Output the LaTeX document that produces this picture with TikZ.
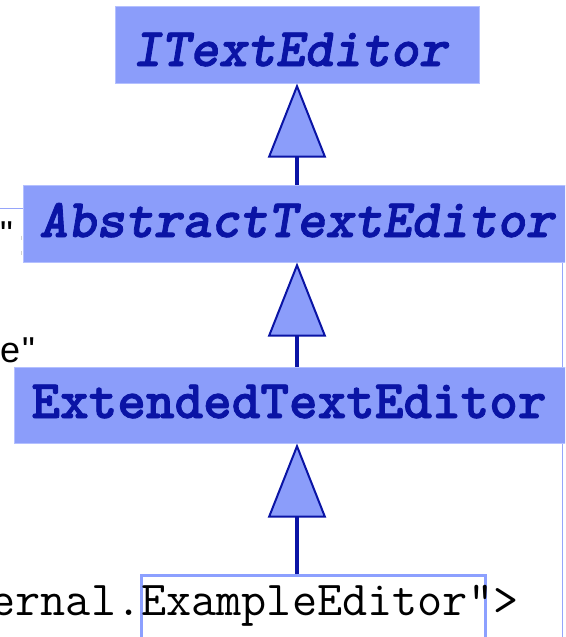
\documentclass[tikz,border=0pt]{standalone}
\usepackage{fontspec}
\newfontfamily\quotefont{Liberation Sans}
\newfontfamily\classmono{lmmonolt10-bold.otf}[FakeBold=1.6]
\newfontfamily\classmonosl{lmmonolt10-boldoblique.otf}[FakeBold=1.6]
\usetikzlibrary{arrows.meta}

\definecolor{classfill}{RGB}{139,157,250}
\definecolor{classedge}{RGB}{180,192,255}
\definecolor{classink}{RGB}{10,20,165}
\definecolor{hilite}{RGB}{140,160,255}
\definecolor{guide}{RGB}{150,165,250}

\tikzset{
  classbox/.style={rectangle, fill=classfill, draw=classedge, line width=1pt, inner sep=0pt},
  classname/.style={anchor=base west, inner sep=0pt, text=classink,
    font=\fontsize{54.5}{60}\selectfont\classmono},
  abstractname/.style={classname, font=\fontsize{54.5}{60}\selectfont\classmonosl},
  codetext/.style={anchor=base west, inner sep=0pt, text=black,
    font=\fontsize{48.8}{55}\selectfont\ttfamily},
  attrtext/.style={anchor=base west, inner sep=0pt, text=black,
    font=\fontsize{36}{42}\selectfont\quotefont},
  generalization/.style={draw=classink, line width=4pt,
    -{Triangle[length=74pt, width=58pt, fill=classfill, line width=2pt]}},
  guideline/.style={draw=guide, line width=1pt},
}

\begin{document}
\begin{tikzpicture}[x=1pt, y=-1pt]
  \useasboundingbox (0,0) rectangle (565,637);
  \clip (0,0) rectangle (565,637);

  % thin guide lines lying behind the class boxes
  \draw[guideline] (562,262) -- (562,640);
  \draw[guideline] (0,208) -- (23,208);
  \draw[gray!35, line width=1pt] (21,235.5) -- (21,239.5) (21,250.5) -- (21,254.5);

  % stray attribute quotes on the left
  \node[attrtext] (quoteA) at (0,246) {"};
  \node[attrtext] (quoteB) at (0,362) {e\kern2pt"};

  % class boxes
  \node[classbox, minimum width=364pt, minimum height=77pt] (itext) at (297,44.5) {};
  \node[classbox, minimum width=552pt, minimum height=77pt] (abstract) at (299,223.5) {};
  \node[classbox, minimum width=561pt, minimum height=76pt] (extended) at (294.5,405) {};

  % class names
  \node[abstractname] (itextname) at (132.5,66) {ITextEditor};
  \node[abstractname] (abstractname) at (39,237) {AbstractTextEditor};
  \node[classname] (extendedname) at (31.3,418) {ExtendedTextEditor};

  % highlighted class reference in the markup line
  \node[rectangle, draw=hilite, line width=3pt, minimum width=344pt, minimum height=100pt,
        inner sep=0pt] (exbox) at (313.5,625.5) {};
  \node[codetext] (codeline) at (-9.7,615) {ernal.ExampleEditor">};

  % generalization arrows
  \draw[generalization] (itext.south |- abstract.north) -- (itext.south);
  \draw[generalization] (itext.south |- extended.north) -- (itext.south |- abstract.south);
  \draw[generalization] (itext.south |- exbox.north) -- (itext.south |- extended.south);
\end{tikzpicture}
\end{document}
